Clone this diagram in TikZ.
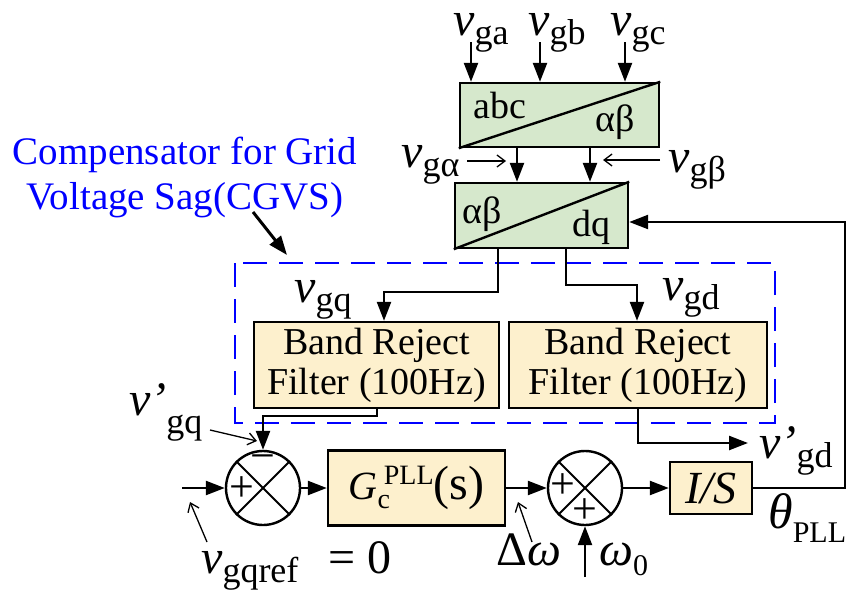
\documentclass[tikz,border=0pt]{standalone}
\usepackage{fontspec}
\setmainfont{Liberation Serif}
\usetikzlibrary{arrows.meta}

\definecolor{convgreen}{RGB}{214,232,204}
\definecolor{filtcream}{RGB}{253,240,205}

\newcommand*{\bigv}{{\fontsize{48}{48}\selectfont\itshape v}}
\newcommand*{\vsig}[1]{\bigv\raisebox{-9pt}{\fontsize{36}{36}\selectfont #1}}
\newcommand*{\vprime}[2]{{\fontsize{48}{48}\selectfont\itshape v’}\raisebox{-#2}{\fontsize{36}{36}\selectfont #1}}
\newcommand*{\gcpll}{{\fontsize{40}{40}\selectfont\itshape G}\rlap{\raisebox{-9pt}{\fontsize{28}{28}\selectfont c}}\,\raisebox{15pt}{\fontsize{28}{28}\selectfont PLL}{\fontsize{48}{48}\selectfont (s)}}

\begin{document}
\begin{tikzpicture}
[
	x=1pt, y=-1pt,
	line width=2.4pt,
	every node/.style={font=\fontsize{38}{40}\selectfont},
	sig/.style={-{Triangle[length=19pt,width=14pt]}},
	pointer/.style={line width=1.3pt,-{Straight Barb[length=8pt,width=12pt]}},
	lbl/.style={anchor=base west,inner sep=0pt},
	convblock/.style={draw,fill=convgreen,inner sep=0pt},
	filtblock/.style={draw,fill=filtcream,inner sep=0pt,align=center},
	sumpt/.style={circle,draw,inner sep=0pt,minimum size=74pt},
	sumsign/.style={inner sep=0pt,font=\fontsize{44}{44}\selectfont}
]

	\useasboundingbox (0,0) rectangle (848,597);

	% transformation blocks
	\node[convblock,minimum width=199pt,minimum height=64pt] (abc) at (559.5,115) {};
	\node[convblock,minimum width=173pt,minimum height=65pt] (dq) at (541.5,215.5) {};
	\draw (abc.south west) -- (abc.north east);
	\draw (dq.south west) -- (dq.north east);
	\node[lbl] (abcin) at (472,118) {abc};
	\node[lbl] (abcout) at (594,131) {αβ};
	\node[lbl] (dqin) at (461,223) {αβ};
	\node[lbl] (dqout) at (571,236) {dq};

	% grid voltages
	\node[lbl] (vga) at (452,35) {\vsig{ga}};
	\node[lbl] (vgb) at (527,35) {\vsig{gb}};
	\node[lbl] (vgc) at (609,35) {\vsig{gc}};
	\coordinate (ina) at (471,42);
	\coordinate (inb) at (540,42);
	\coordinate (inc) at (625,42);
	\draw[sig] (ina) -- (ina |- abc.north);
	\draw[sig] (inb) -- (inb |- abc.north);
	\draw[sig] (inc) -- (inc |- abc.north);

	% alpha-beta signals
	\coordinate (ala) at (517,0);
	\coordinate (bea) at (590,0);
	\draw[sig] (abc.south -| ala) -- (dq.north -| ala);
	\draw[sig] (abc.south -| bea) -- (dq.north -| bea);
	\node[lbl] (vgal) at (400,167) {\vsig{gα}};
	\node[lbl] (vgbe) at (667,172) {\vsig{gβ}};
	\coordinate (alfrom) at (467,161);
	\coordinate (alto) at (506,161);
	\coordinate (befrom) at (660,160);
	\coordinate (beto) at (603,160);
	\draw[pointer] (alfrom) -- (alto);
	\draw[pointer] (befrom) -- (beto);

	% compensator (CGVS)
	\draw[blue,dash pattern=on 24pt off 12pt,line width=2.8pt] (235,263) rectangle (775,423);
	\node[text=blue,align=center,anchor=north,inner sep=0pt,font=\fontsize{39}{45}\selectfont] (cgvs) at (185,136) {Compensator for Grid\\Voltage Sag(CGVS)};
	\coordinate (cgvstail) at (253,212);
	\coordinate (cgvshead) at (287,255);
	\draw[sig,line width=3pt] (cgvstail) -- (cgvshead);

	% band reject filters
	\node[filtblock,minimum width=245pt,minimum height=86pt] (brfq) at (376.5,365) {Band Reject\\Filter (100Hz)};
	\node[filtblock,minimum width=258pt,minimum height=86pt] (brfd) at (638,365) {Band Reject\\Filter (100Hz)};
	\coordinate (qbend) at (498,292);
	\coordinate (dbend) at (566,285);
	\coordinate (qin) at (384,0);
	\coordinate (din) at (637,0);
	\draw[sig] (dq.south -| qbend) -- (qbend) -| (brfq.north -| qin);
	\draw[sig] (dq.south -| dbend) -- (dbend) -| (brfd.north -| din);
	\node[lbl] (vgq) at (293,302) {\vsig{gq}};
	\node[lbl] (vgd) at (661,300) {\vsig{gd}};

	% pll loop
	\node[sumpt] (sumq) at (263,488) {};
	\node[filtblock,minimum width=177pt,minimum height=75pt] (gc) at (416.5,488) {\gcpll};
	\node[sumpt] (sumw) at (585,488) {};
	\node[filtblock,minimum width=82pt,minimum height=52pt,font=\fontsize{46}{46}\selectfont\itshape] (integ) at (711,488) {I/S};
	\draw[line width=1.8pt] (sumq.north west) -- (sumq.south east) (sumq.north east) -- (sumq.south west);
	\draw[line width=1.8pt] (sumw.north west) -- (sumw.south east) (sumw.north east) -- (sumw.south west);
	\node[sumsign] (qminus) at ([shift={(0,-25)}]sumq.center) {−};
	\node[sumsign] (qplus) at ([shift={(-21,1)}]sumq.center) {+};
	\node[sumsign] (wplusl) at ([shift={(-22,-2)}]sumw.center) {+};
	\node[sumsign] (wplusb) at ([shift={(0,23)}]sumw.center) {+};

	\coordinate (qref) at (182,488);
	\draw[sig] (qref) -- (sumq.west);
	\draw[sig] (sumq.east) -- (gc.west);
	\draw[sig] (gc.east) -- (sumw.west);
	\draw[sig] (sumw.east) -- (integ.west);
	\coordinate (wzero) at (585,577);
	\draw[sig] (wzero) -- (sumw.south);
	\coordinate (qfbend) at (377,416);
	\draw[sig] (brfq.south -| qfbend) -- (qfbend) -| (sumq.north);
	\coordinate (dfbend) at (638,443);
	\coordinate (dfend) at (748,443);
	\draw[sig] (brfd.south -| dfbend) -- (dfbend) -- (dfend);

	% feedback of theta
	\coordinate (fbcorner) at (845,222);
	\draw[sig] (integ.east) -| (fbcorner) -- (dq.east |- fbcorner);

	% loop labels
	\node[lbl] (vgqp) at (128,415) {\vprime{gq}{18pt}};
	\node[lbl] (vgdp) at (758,458) {\vprime{gd}{9pt}};
	\node[lbl] (vref) at (200,573) {\vsig{gqref}\hspace{30pt}{\fontsize{48}{48}\selectfont = 0}};
	\node[lbl] (dw) at (495,565) {\fontsize{48}{48}\selectfont Δ\textit{ω}};
	\node[lbl] (wz) at (598,565) {{\fontsize{48}{48}\selectfont\itshape ω}\raisebox{-10pt}{\fontsize{30}{30}\selectfont 0}};
	\node[lbl] (thpll) at (767,528) {{\fontsize{50}{50}\selectfont\itshape θ}\raisebox{-14pt}{\fontsize{30}{30}\selectfont PLL}};

	\coordinate (vqpa) at (210,430);
	\coordinate (vqpb) at (257,441);
	\coordinate (vrefa) at (207,542);
	\coordinate (vrefb) at (190,502);
	\coordinate (dwa) at (532,542);
	\coordinate (dwb) at (518,502);
	\draw[pointer] (vqpa) -- (vqpb);
	\draw[pointer] (vrefa) -- (vrefb);
	\draw[pointer] (dwa) -- (dwb);

\end{tikzpicture}
\end{document}
